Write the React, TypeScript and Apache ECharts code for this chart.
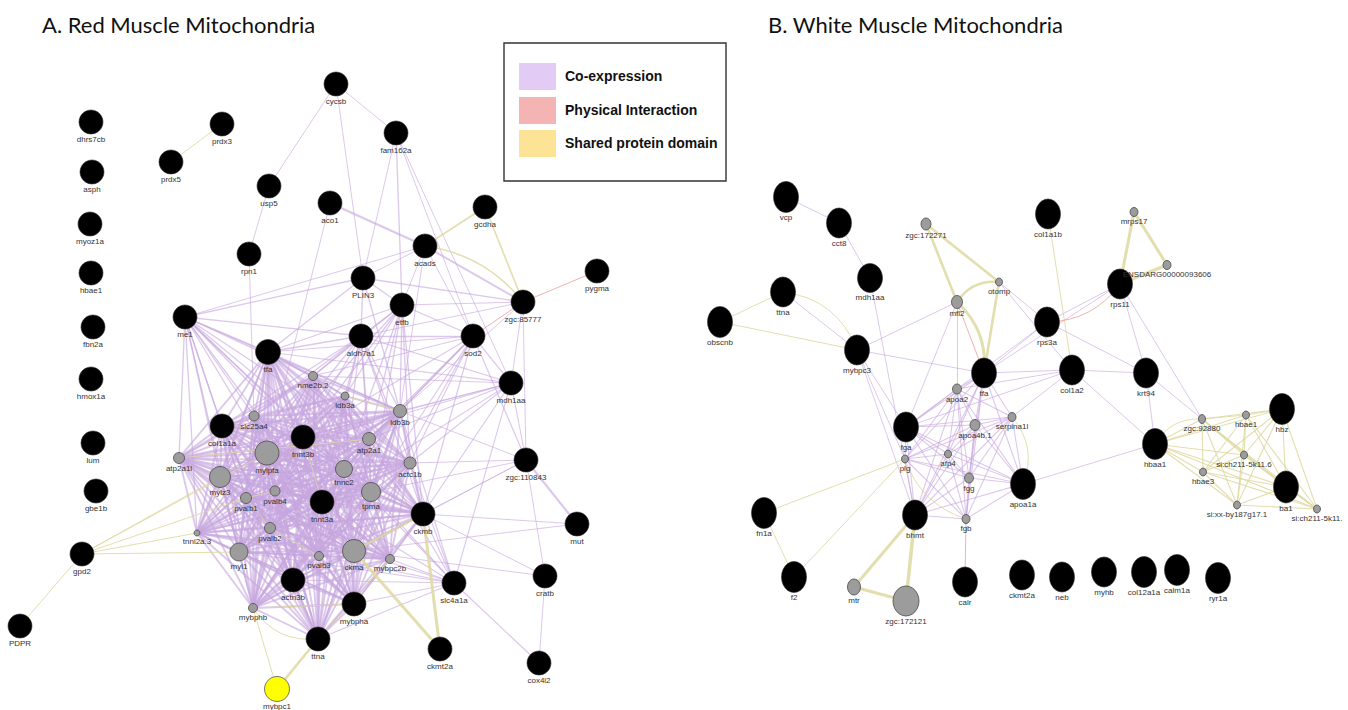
import React, { useEffect, useRef } from "react";
import * as echarts from "echarts";

// ---------- DATA ----------
// Panel titles
const panelTitles = ["A. Red Muscle Mitochondria", "B. White Muscle Mitochondria"];
const legendLabels = ["Co-expression", "Physical Interaction", "Shared protein domain"];

// Red muscle nodes: [name, x, y, size, kind]  kind: q = query gene, r = related gene, y = highlighted
const redNodes: [string, number, number, number, string][] = [
  ["dhrs7cb", 91, 122, 24, "q"], ["asph", 92, 172, 24, "q"], ["myoz1a", 90, 224, 24, "q"],
  ["hbae1", 91, 273, 24, "q"], ["fbn2a", 93, 327, 24, "q"], ["hmox1a", 91, 379, 24, "q"],
  ["lum", 93, 443, 24, "q"], ["gbe1b", 96, 491, 24, "q"], ["gpd2", 82, 554, 24, "q"],
  ["PDPR", 20, 626, 24, "q"], ["prdx3", 222, 124, 24, "q"], ["prdx5", 171, 162, 24, "q"],
  ["usp5", 269, 186, 24, "q"], ["cycsb", 336, 84, 24, "q"], ["fam162a", 396, 133, 24, "q"],
  ["aco1", 330, 203, 24, "q"], ["rpn1", 249, 254, 24, "q"], ["gcdha", 485, 207, 24, "q"],
  ["acads", 425, 246, 24, "q"], ["PLIN3", 363, 278, 24, "q"], ["etfb", 402, 305, 24, "q"],
  ["pygma", 597, 271, 24, "q"], ["zgc:85777", 523, 302, 24, "q"], ["me1", 185, 317, 24, "q"],
  ["aldh7a1", 361, 336, 24, "q"], ["sod2", 473, 336, 24, "q"], ["mdh1aa", 511, 383, 24, "q"],
  ["tfa", 268, 352, 25, "q"], ["nme2b.2", 313, 376, 9, "r"], ["ldb3a", 345, 396, 8, "r"],
  ["ldb3b", 400, 411, 13, "r"], ["slc25a4", 254, 416, 10, "r"], ["col1a1a", 222, 426, 24, "q"],
  ["tnnt3b", 303, 437, 24, "q"], ["atp2a1", 369, 439, 13, "r"], ["atp2a1l", 179, 458, 11, "r"],
  ["mylpfa", 267, 453, 24, "r"], ["actc1b", 410, 463, 12, "r"], ["zgc:110843", 526, 460, 24, "q"],
  ["tnnc2", 344, 469, 17, "r"], ["mylz3", 220, 477, 21, "r"], ["pvalb4", 275, 491, 10, "r"],
  ["pvalb1", 246, 498, 11, "r"], ["tpma", 371, 492, 19, "r"], ["tnnt3a", 322, 502, 24, "q"],
  ["ckmb", 423, 514, 24, "q"], ["mut", 577, 524, 24, "q"], ["tnni2a.3", 197, 533, 6, "r"],
  ["pvalb2", 270, 528, 11, "r"], ["myl1", 239, 552, 18, "r"], ["pvalb3", 319, 556, 9, "r"],
  ["ckma", 354, 551, 23, "r"], ["mybpc2b", 390, 559, 9, "r"], ["actn3b", 293, 580, 24, "q"],
  ["slc4a1a", 454, 583, 24, "q"], ["cratb", 545, 576, 24, "q"], ["mybpha", 354, 604, 24, "q"],
  ["mybphb", 253, 608, 9, "r"], ["ttna", 318, 639, 24, "q"], ["ckmt2a", 440, 649, 24, "q"],
  ["cox4i2", 539, 663, 24, "q"], ["mybpc1", 277, 689, 25, "y"],
];

// Densely co-expressed muscle cluster (red muscle)
const redCore = [
  "tfa", "nme2b.2", "ldb3a", "ldb3b", "slc25a4", "col1a1a", "tnnt3b", "atp2a1", "atp2a1l",
  "mylpfa", "actc1b", "tnnc2", "mylz3", "pvalb4", "pvalb1", "tpma", "tnnt3a", "ckmb",
  "tnni2a.3", "pvalb2", "myl1", "pvalb3", "ckma", "mybpc2b", "actn3b", "mybpha", "mybphb", "ttna",
];

// Red muscle edge neighbour lists: [source, targets, type, width]
const redLinkGroups: [string, string[], string, number][] = [
  ["cycsb", ["usp5", "fam162a", "PLIN3"], "co", 1],
  ["usp5", ["rpn1"], "co", 1],
  ["rpn1", ["slc25a4"], "co", 1],
  ["aco1", ["acads"], "co", 2.4],
  ["aco1", ["mylpfa"], "co", 1],
  ["fam162a", ["PLIN3", "sod2", "mdh1aa"], "co", 1],
  ["acads", ["zgc:85777"], "co", 2],
  ["acads", ["me1", "PLIN3", "sod2", "ldb3b", "etfb"], "co", 1],
  ["PLIN3", ["aldh7a1", "me1", "zgc:85777", "tfa", "ldb3b", "etfb"], "co", 1.3],
  ["zgc:85777", ["etfb", "aldh7a1", "ldb3b", "mdh1aa", "zgc:110843"], "co", 1],
  ["me1", ["tfa", "col1a1a", "atp2a1l", "mylz3", "tnnt3b", "mylpfa", "ldb3b", "nme2b.2", "aldh7a1", "ckmb", "tnnc2", "myl1", "slc25a4", "tnni2a.3", "tnnt3a", "tpma", "pvalb1", "atp2a1"], "co", 1.3],
  ["aldh7a1", ["tfa", "nme2b.2", "ldb3a", "ldb3b", "tnnt3b", "col1a1a", "mylpfa", "ckmb", "tnnt3a", "sod2", "etfb", "atp2a1", "slc25a4", "tnnc2", "actc1b", "tpma", "mdh1aa"], "co", 1.3],
  ["etfb", ["ldb3b", "ldb3a", "tnnt3b", "nme2b.2", "tpma", "ckmb", "tnnc2", "atp2a1", "actc1b", "sod2", "fam162a", "tfa", "mylpfa"], "co", 1.3],
  ["sod2", ["ldb3b", "atp2a1", "actc1b", "ckmb", "tnnt3b", "nme2b.2", "zgc:110843", "mdh1aa", "tnnc2", "tpma", "ckma", "tfa"], "co", 1.2],
  ["mdh1aa", ["ldb3b", "actc1b", "ckmb", "tnnt3b", "zgc:110843", "nme2b.2", "tfa", "slc4a1a", "atp2a1", "tnnt3a", "mylpfa"], "co", 1.1],
  ["zgc:110843", ["mut"], "co", 2.2],
  ["zgc:110843", ["ckmb", "actc1b", "cratb", "ldb3b", "ckma", "tpma"], "co", 1],
  ["mut", ["ckma", "ckmb"], "co", 1],
  ["cratb", ["ckma", "cox4i2", "ckmb"], "co", 1],
  ["slc4a1a", ["cox4i2", "ckmb", "ckma", "tpma", "tnnt3a", "mybpha", "actn3b", "mybpc2b", "myl1", "tnnc2", "pvalb3", "actc1b", "ldb3b", "ttna", "atp2a1"], "co", 1.2],
  ["prdx3", ["prdx5"], "dom", 1],
  ["gcdha", ["acads", "zgc:85777"], "dom", 1.6],
  ["gpd2", ["PDPR", "tnni2a.3", "mylz3", "pvalb1", "myl1", "mylpfa"], "dom", 1],
  ["mybphb", ["mybpc1", "mybpha"], "dom", 1],
  ["ttna", ["mybpc1"], "dom", 2.6],
  ["ckmt2a", ["ckmb", "ckma"], "dom", 3],
  ["ckma", ["ckmb"], "dom", 2.5],
  ["pvalb2", ["pvalb1", "pvalb3"], "dom", 1],
  ["pvalb1", ["pvalb4"], "dom", 1],
  ["ldb3a", ["ldb3b"], "dom", 1],
  ["tnnt3a", ["tnnt3b"], "dom", 1],
  ["atp2a1", ["atp2a1l"], "dom", 1],
  ["mybpc2b", ["ttna"], "dom", 1],
  ["zgc:85777", ["pygma", "sod2"], "phy", 1],
];
// Curved red-muscle edges: [source, target, type, width, curveness]
const redCurved: [string, string, string, number, number][] = [
  ["acads", "zgc:85777", "dom", 1.6, 0.2],
  ["mybphb", "ttna", "dom", 1, -0.3],
];

// White muscle nodes: [name, x, y, width, height, kind]
const whiteNodes: [string, number, number, number, number, string][] = [
  ["vcp", 786, 197, 25, 31, "q"], ["cct8", 839, 223, 25, 30, "q"], ["mdh1aa", 870, 278, 25, 29, "q"],
  ["ttna", 783, 292, 25, 30, "q"], ["obscnb", 720, 322, 25, 31, "q"], ["mybpc3", 857, 350, 25, 30, "q"],
  ["zgc:172271", 926, 224, 10, 12, "r"], ["otomp", 999, 282, 7, 8, "r"], ["mfl2", 957, 302, 11, 13, "r"],
  ["col1a1b", 1048, 214, 25, 30, "q"], ["mrps17", 1134, 212, 8, 9, "r"],
  ["ENSDARG00000093606", 1167, 265, 8, 9, "r"], ["rps11", 1120, 284, 25, 30, "q"],
  ["rps3a", 1047, 322, 25, 30, "q"], ["tfa", 984, 373, 25, 30, "q"], ["col1a2", 1072, 370, 25, 30, "q"],
  ["krt94", 1146, 373, 25, 30, "q"], ["apoa2", 957, 389, 9, 10, "r"], ["fga", 906, 427, 25, 30, "q"],
  ["apoa4b.1", 975, 425, 10, 11, "r"], ["serpina1l", 1012, 417, 8, 9, "r"], ["plg", 905, 459, 7, 8, "r"],
  ["afp4", 948, 454, 7, 8, "r"], ["fgg", 969, 478, 9, 10, "r"], ["apoa1a", 1023, 484, 25, 31, "q"],
  ["fgb", 966, 519, 8, 9, "r"], ["bhmt", 915, 515, 25, 30, "q"], ["fn1a", 764, 513, 25, 31, "q"],
  ["f2", 794, 577, 25, 31, "q"], ["mtr", 854, 587, 13, 16, "r"], ["zgc:172121", 906, 601, 26, 30, "r"],
  ["calr", 965, 582, 25, 30, "q"], ["ckmt2a", 1022, 575, 25, 30, "q"], ["neb", 1062, 577, 25, 30, "q"],
  ["myhb", 1104, 572, 25, 30, "q"], ["col12a1a", 1144, 572, 25, 31, "q"], ["calm1a", 1177, 570, 25, 31, "q"],
  ["ryr1a", 1218, 578, 25, 31, "q"], ["zgc:92880", 1202, 419, 7, 9, "r"], ["hbae1", 1246, 415, 7, 8, "r"],
  ["hbz", 1282, 409, 25, 31, "q"], ["hbaa1", 1155, 444, 25, 31, "q"], ["si:ch211-5k11.6", 1244, 455, 7, 8, "r"],
  ["hbae3", 1203, 472, 7, 8, "r"], ["ba1", 1286, 487, 25, 32, "q"], ["si:xx-by187g17.1", 1237, 505, 7, 8, "r"],
  ["si:ch211-5k11.", 1317, 509, 7, 8, "r"],
];

// Liver / plasma protein cluster and haemoglobin cluster (white muscle)
const whiteCore = ["tfa", "apoa2", "fga", "apoa4b.1", "serpina1l", "plg", "afp4", "fgg", "apoa1a", "fgb", "bhmt"];
const whiteHb = ["hbaa1", "zgc:92880", "hbae1", "hbz", "si:ch211-5k11.6", "hbae3", "ba1", "si:xx-by187g17.1", "si:ch211-5k11."];

const whiteLinkGroups: [string, string[], string, number][] = [
  ["vcp", ["cct8"], "co", 1],
  ["cct8", ["mdh1aa"], "co", 1],
  ["mdh1aa", ["bhmt"], "co", 1],
  ["mybpc3", ["ttna", "mfl2", "tfa", "fga", "bhmt", "plg"], "co", 1],
  ["mfl2", ["fga", "apoa2"], "co", 1],
  ["otomp", ["rps3a", "col1a2"], "co", 1],
  ["rps3a", ["tfa", "fga", "krt94", "rps11"], "co", 1],
  ["rps11", ["krt94", "zgc:92880", "tfa"], "co", 1],
  ["col1a2", ["tfa", "krt94", "fga", "hbaa1", "serpina1l", "apoa2"], "co", 1],
  ["krt94", ["hbaa1", "zgc:92880"], "co", 1],
  ["hbaa1", ["apoa1a"], "co", 1],
  ["obscnb", ["ttna", "mybpc3"], "dom", 1],
  ["zgc:172271", ["mfl2", "otomp"], "dom", 2.6],
  ["otomp", ["tfa"], "dom", 2.6],
  ["col1a1b", ["col1a2"], "dom", 1],
  ["mrps17", ["rps11", "ENSDARG00000093606"], "dom", 3],
  ["ENSDARG00000093606", ["rps11"], "dom", 3],
  ["plg", ["fn1a", "f2"], "dom", 1],
  ["fn1a", ["f2"], "dom", 1],
  ["bhmt", ["mtr"], "dom", 3],
  ["bhmt", ["zgc:172121"], "dom", 3.5],
  ["mtr", ["zgc:172121"], "dom", 3],
  ["fgb", ["calr"], "phy", 1],
  ["mfl2", ["tfa"], "phy", 1],
];
const whiteCurved: [string, string, string, number, number][] = [
  ["ttna", "mybpc3", "dom", 1, 0.3],
  ["mfl2", "otomp", "dom", 2.6, 0.3],
  ["mfl2", "tfa", "dom", 3, 0.25],
  ["serpina1l", "apoa1a", "dom", 1, 0.3],
  ["plg", "fgb", "dom", 1, -0.25],
  ["hbaa1", "zgc:92880", "dom", 1, 0.3],
  ["rps3a", "rps11", "phy", 1, -0.25],
];

// ---------- STYLES ----------
const edgeColor: Record<string, string> = {
  co: "rgba(198,166,222,0.62)",
  dom: "rgba(222,216,160,0.85)",
  phy: "rgba(240,168,168,0.9)",
};
const typeOrder: Record<string, number> = { co: 0, dom: 1, phy: 2 };
const nodeStyle: Record<string, any> = {
  q: { color: "#000000", borderColor: "#2a2a2a", borderWidth: 0.6 },
  r: { color: "#9c9c9c", borderColor: "#4a4a4a", borderWidth: 0.8 },
  y: { color: "#ffff00", borderColor: "#555555", borderWidth: 0.8 },
};
const legendColors = ["#e2ccf6", "#f5b4b4", "#fde396"];

function buildLinks(
  core: string[][],
  coreWidth: number,
  groups: [string, string[], string, number][],
  curved: [string, string, string, number, number][]
) {
  const seen = new Set<string>();
  const raw: { s: string; t: string; type: string; w: number; c: number }[] = [];
  const add = (s: string, t: string, type: string, w: number, c: number) => {
    const key = [s, t].sort().join("|") + "|" + type + "|" + (c ? "c" : "");
    if (seen.has(key)) return;
    seen.add(key);
    raw.push({ s, t, type, w, c });
  };
  core.forEach((members, ci) => {
    const type = ci === 0 ? "co" : "dom";
    for (let i = 0; i < members.length; i++)
      for (let j = i + 1; j < members.length; j++) add(members[i], members[j], type, ci === 0 ? coreWidth : 1.1, 0);
  });
  groups.forEach(([s, ts, type, w]) => ts.forEach((t) => add(s, t, type, w, 0)));
  curved.forEach(([s, t, type, w, c]) => add(s, t, type, w, c));
  raw.sort((a, b) => typeOrder[a.type] - typeOrder[b.type]);
  return raw.map((e) => ({
    source: e.s,
    target: e.t,
    lineStyle: { color: edgeColor[e.type], width: e.w, curveness: e.c, opacity: 1 },
  }));
}

const labelStyle = {
  show: true,
  position: "bottom",
  distance: 1,
  fontSize: 8,
  color: "#333333",
  fontFamily: "Liberation Sans",
};

export default function App() {
  const ref = useRef<HTMLDivElement>(null);
  useEffect(() => {
    document.body.style.margin = "0";
    if (!ref.current) return;
    const chart = echarts.init(ref.current, undefined, { renderer: "svg" });

    const redData = redNodes.map(([name, x, y, size, kind]) => ({
      name,
      value: [x, y],
      symbolSize: size,
      itemStyle: nodeStyle[kind],
    }));
    const whiteData = whiteNodes.map(([name, x, y, w, h, kind]) => ({
      name,
      value: [x, y],
      symbolSize: [w, h],
      itemStyle: nodeStyle[kind],
    }));

    const redLinks = buildLinks([redCore], 1.9, redLinkGroups, redCurved);
    const whiteLinks = buildLinks([whiteCore, whiteHb], 1.1, whiteLinkGroups, whiteCurved);

    const legendGraphics: any[] = [
      {
        type: "rect",
        shape: { x: 504, y: 43, width: 222, height: 138 },
        style: { fill: "#ffffff", stroke: "#333333", lineWidth: 1.4 },
        z: 10,
      },
    ];
    legendLabels.forEach((lab, i) => {
      const cy = [76, 110, 143][i];
      legendGraphics.push({
        type: "rect",
        shape: { x: 519, y: cy - 13, width: 37, height: 27 },
        style: { fill: legendColors[i] },
        z: 11,
      });
      legendGraphics.push({
        type: "text",
        x: 565,
        y: cy,
        style: {
          text: lab,
          fill: "#111111",
          font: "bold 14px 'Liberation Sans'",
          verticalAlign: "middle",
        },
        z: 11,
      });
    });

    chart.setOption({
      animation: false,
      backgroundColor: "#ffffff",
      grid: { left: 0, right: 0, top: 0, bottom: 0, containLabel: false },
      xAxis: { type: "value", min: 0, max: 1348, show: false },
      yAxis: { type: "value", min: 0, max: 710, inverse: true, show: false },
      graphic: [
        {
          type: "text",
          x: 42,
          y: 24,
          style: { text: panelTitles[0], fill: "#111", font: "22px Lato", verticalAlign: "middle" },
        },
        {
          type: "text",
          x: 768,
          y: 24,
          style: { text: panelTitles[1], fill: "#111", font: "22px Lato", verticalAlign: "middle" },
        },
        ...legendGraphics,
      ],
      series: [
        {
          type: "graph",
          layout: "none",
          coordinateSystem: "cartesian2d",
          data: redData,
          links: redLinks,
          label: labelStyle,
          silent: true,
          emphasis: { disabled: true },
          z: 2,
        },
        {
          type: "graph",
          layout: "none",
          coordinateSystem: "cartesian2d",
          data: whiteData,
          links: whiteLinks,
          label: labelStyle,
          silent: true,
          emphasis: { disabled: true },
          z: 2,
        },
      ],
    });
    return () => chart.dispose();
  }, []);
  return <div ref={ref} style={{ width: 1348, height: 710 }} />;
}
